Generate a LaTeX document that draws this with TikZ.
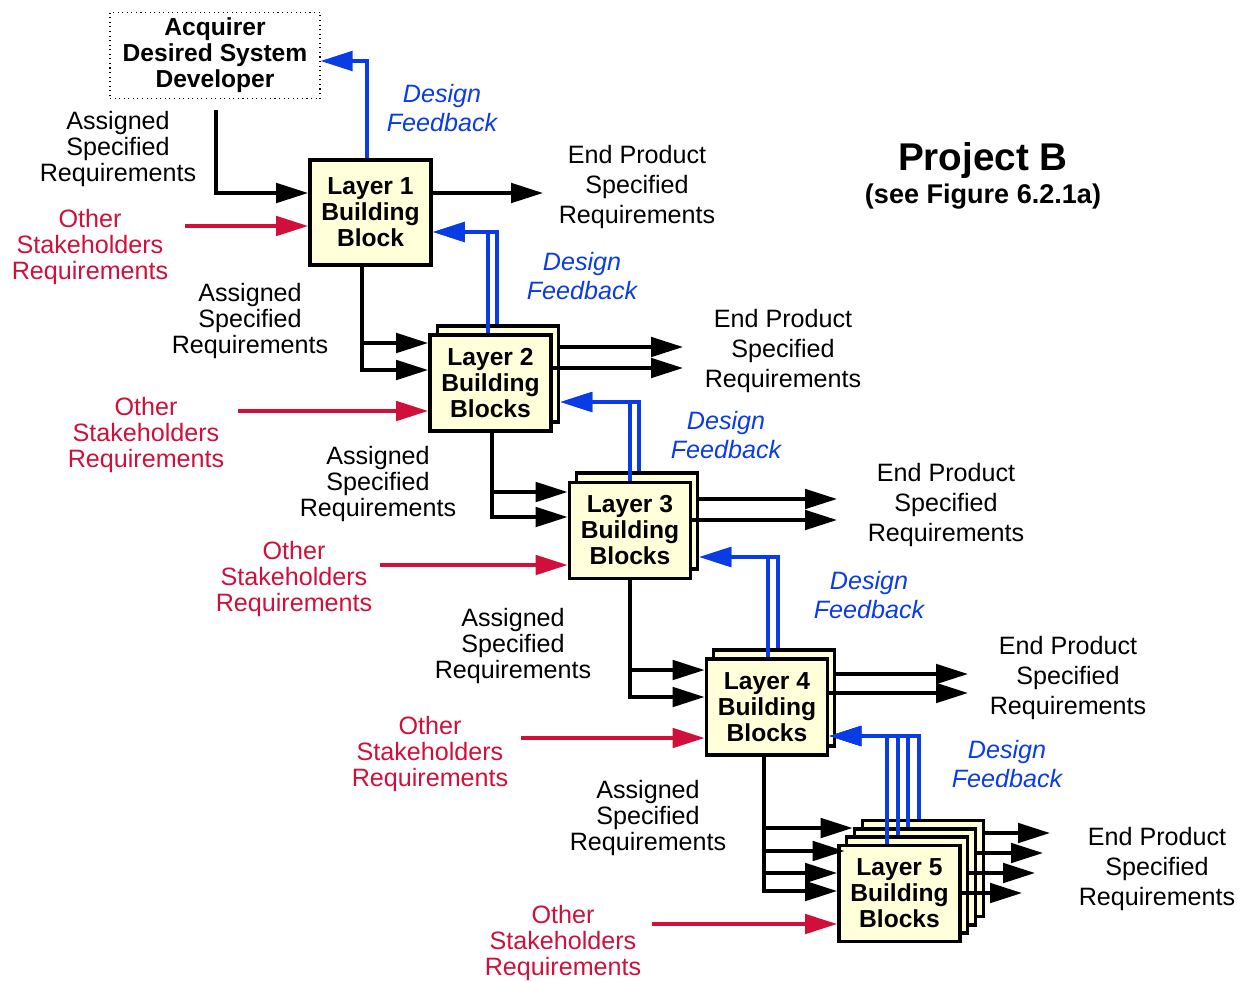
\documentclass[tikz,border=0pt]{standalone}
\usepackage{fontspec}
\setmainfont{Liberation Sans}
\usetikzlibrary{arrows.meta,calc}

\definecolor{blockfill}{HTML}{FFFFD9}
\definecolor{fbblue}{HTML}{0A3CE6}
\definecolor{osred}{HTML}{D0103A}

\begin{document}
\begin{tikzpicture}[x=0.02cm, y=-0.02cm,
    block/.style={draw, line width=2.2pt, fill=blockfill, align=center,
        minimum width=2.42cm, minimum height=1.92cm, inner sep=0pt,
        font=\fontsize{14}{14.8}\selectfont\bfseries},
    asreq/.style={align=center, font=\fontsize{14.3}{14.8}\selectfont},
    osreq/.style={asreq, text=osred},
    epreq/.style={align=center, font=\fontsize{14.3}{17.3}\selectfont},
    fbtext/.style={align=center, text=fbblue, font=\fontsize{14.3}{16.5}\selectfont\itshape},
    flow/.style={-{Triangle[length=0.64cm, width=0.39cm]}, line width=2pt},
    req/.style={flow, black},
    fb/.style={flow, fbblue},
    os/.style={flow, osred}
]
    % Page: 1244 x 981 px, y runs down
    \useasboundingbox (0,0) rectangle (1244,981);

    % Title
    \node[font=\fontsize{22}{24}\selectfont\bfseries] (title) at (983,161) {Project B};
    \node[font=\fontsize{15.4}{17}\selectfont\bfseries] (subtitle) at (983,197) {(see Figure 6.2.1a)};

    % Acquirer box
    \node[draw, dotted, line width=0.6pt, minimum width=4.2cm, minimum height=1.7cm, align=center,
        font=\fontsize{14}{14.8}\selectfont\bfseries] (acq) at (215,55.5) {Acquirer\\Desired System\\Developer};

    % Building blocks, back copies first
    \node[block, minimum height=2.1cm] (L1) at (370.5,212.5) {Layer 1\\Building\\Block};
    \node[block] (L2b) at (498,374) {};
    \node[block] (L2) at (490.5,383) {Layer 2\\Building\\Blocks};
    \node[block] (L3b) at (637,521) {};
    \node[block] (L3) at (630,530.5) {Layer 3\\Building\\Blocks};
    \node[block] (L4b) at (774,698) {};
    \node[block] (L4) at (767,707) {Layer 4\\Building\\Blocks};
    \node[block] (L5d) at (923,868.5) {};
    \node[block] (L5c) at (915,877) {};
    \node[block] (L5b) at (907,885) {};
    \node[block] (L5a) at (899.5,893.5) {Layer 5\\Building\\Blocks};

    % Free ends: red tails and output tips
    \coordinate (r1) at (185,226);
    \coordinate (r2) at (238,411);
    \coordinate (r3) at (380,565);
    \coordinate (r4) at (521,738);
    \coordinate (r5) at (652,924);
    \coordinate (e1) at (543,193);
    \coordinate (e2a) at (683,347);
    \coordinate (e2b) at (683,368);
    \coordinate (e3a) at (837,499);
    \coordinate (e3b) at (837,520);
    \coordinate (e4a) at (968,674);
    \coordinate (e4b) at (968,693);
    \coordinate (e5a) at (1050,833);
    \coordinate (e5b) at (1043,853);
    \coordinate (e5c) at (1035,873);
    \coordinate (e5d) at (1022,893);

    % Assigned requirements, down the layers
    \draw[req] ($(acq.south)+(1,11)$) |- ($(L1.west)+(0,-19.5)$);
    \draw[req] ($(L1.south)+(-8.5,0)$) |- ($(L2.west)+(0,-40)$);
    \draw[req] ($(L1.south)+(-8.5,0)$) |- ($(L2.west)+(0,-13)$);
    \draw[req] ($(L2.south)+(1.5,0)$) |- ($(L3.west)+(0,-38.5)$);
    \draw[req] ($(L2.south)+(1.5,0)$) |- ($(L3.west)+(0,-13.5)$);
    \draw[req] (L3.south) |- ($(L4.west)+(0,-37)$);
    \draw[req] (L3.south) |- ($(L4.west)+(0,-10)$);
    \draw[req] ($(L4.south)+(-3,0)$) |- ($(L5c.west)+(0,-49)$);
    \draw[req] ($(L4.south)+(-3,0)$) |- ($(L5b.west)+(0,-34)$);
    \draw[req] ($(L4.south)+(-3,0)$) |- ($(L5a.west)+(0,-20.5)$);
    \draw[req] ($(L4.south)+(-3,0)$) |- ($(L5a.west)+(0,-2.5)$);

    % End product outputs
    \draw[req] (L1.east |- e1) -- (e1);
    \draw[req] (L2b.east |- e2a) -- (e2a);
    \draw[req] (L2.east |- e2b) -- (e2b);
    \draw[req] (L3b.east |- e3a) -- (e3a);
    \draw[req] (L3.east |- e3b) -- (e3b);
    \draw[req] (L4b.east |- e4a) -- (e4a);
    \draw[req] (L4.east |- e4b) -- (e4b);
    \draw[req] (L5d.east |- e5a) -- (e5a);
    \draw[req] (L5c.east |- e5b) -- (e5b);
    \draw[req] (L5b.east |- e5c) -- (e5c);
    \draw[req] (L5a.east |- e5d) -- (e5d);

    % Other stakeholders
    \draw[os] (r1) -- (L1.west |- r1);
    \draw[os] (r2) -- (L2.west |- r2);
    \draw[os] (r3) -- (L3.west |- r3);
    \draw[os] (r4) -- (L4.west |- r4);
    \draw[os] (r5) -- (L5a.west |- r5);

    % Design feedback, up the layers
    \draw[fb] ($(L1.north)+(-3.5,0)$) |- ($(acq.east)+(0,5.5)$);
    \draw[fb] ($(L2.north)+(-2.5,0)$) |- ($(L1.east)+(0,19.5)$);
    \draw[fb] ($(L2b.north)+(-1,0)$) |- ($(L1.east)+(0,19.5)$);
    \draw[fb] (L3.north) |- ($(L2b.east)+(0,28)$);
    \draw[fb] ($(L3b.north)+(2,0)$) |- ($(L2b.east)+(0,28)$);
    \draw[fb] ($(L4.north)+(1,0)$) |- ($(L3b.east)+(0,36)$);
    \draw[fb] ($(L4b.north)+(4,0)$) |- ($(L3b.east)+(0,36)$);
    \draw[fb] ($(L5a.north)+(-12.5,0)$) |- ($(L4.east)+(0,29)$);
    \draw[fb] ($(L5b.north)+(-9,0)$) |- ($(L4.east)+(0,29)$);
    \draw[fb] ($(L5c.north)+(-7,0)$) |- ($(L4.east)+(0,29)$);
    \draw[fb] ($(L5d.north)+(-4,0)$) |- ($(L4.east)+(0,29)$);

    % Labels
    \node[asreq] (as1) at (118,149) {Assigned\\Specified\\Requirements};
    \node[osreq] (os1) at (90,247) {Other\\Stakeholders\\Requirements};
    \node[epreq] (ep1) at (637,187) {End Product\\Specified\\Requirements};
    \node[fbtext] (fb1) at (442,108) {Design\\Feedback};

    \node[asreq] (as2) at (250,321) {Assigned\\Specified\\Requirements};
    \node[osreq] (os2) at (146,435) {Other\\Stakeholders\\Requirements};
    \node[epreq] (ep2) at (783,351) {End Product\\Specified\\Requirements};
    \node[fbtext] (fb2) at (582,276) {Design\\Feedback};

    \node[asreq] (as3) at (378,484) {Assigned\\Specified\\Requirements};
    \node[osreq] (os3) at (294,579) {Other\\Stakeholders\\Requirements};
    \node[epreq] (ep3) at (946,505) {End Product\\Specified\\Requirements};
    \node[fbtext] (fb3) at (726,435) {Design\\Feedback};

    \node[asreq] (as4) at (513,646) {Assigned\\Specified\\Requirements};
    \node[osreq] (os4) at (430,754) {Other\\Stakeholders\\Requirements};
    \node[epreq] (ep4) at (1068,678) {End Product\\Specified\\Requirements};
    \node[fbtext] (fb4) at (869,595) {Design\\Feedback};

    \node[asreq] (as5) at (648,818) {Assigned\\Specified\\Requirements};
    \node[osreq] (os5) at (563,943) {Other\\Stakeholders\\Requirements};
    \node[epreq] (ep5) at (1157,869) {End Product\\Specified\\Requirements};
    \node[fbtext] (fb5) at (1007,764) {Design\\Feedback};
\end{tikzpicture}
\end{document}
